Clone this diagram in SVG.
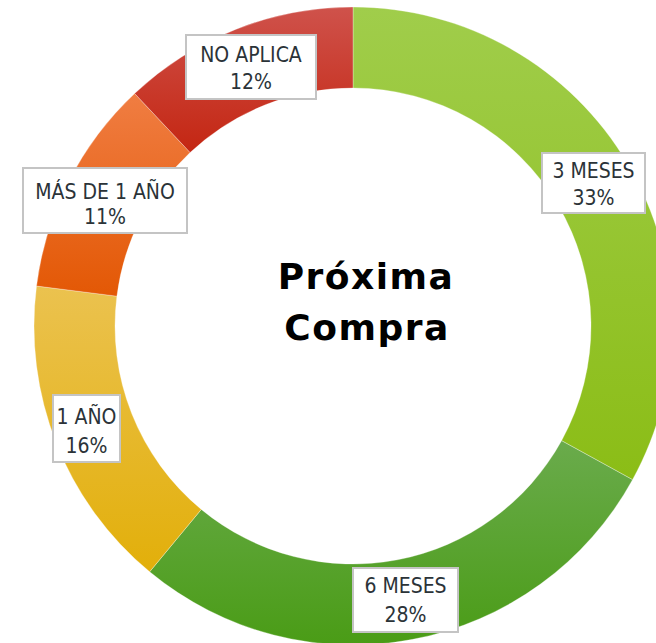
<svg xmlns="http://www.w3.org/2000/svg" width="656" height="643" viewBox="0 0 656 643">
<defs>
<linearGradient id="g1" x1="0" y1="0" x2="0" y2="1"><stop offset="0" stop-color="#a0cd4b"/><stop offset="1" stop-color="#8bbd16"/></linearGradient>
<linearGradient id="g2" x1="0" y1="0" x2="0" y2="1"><stop offset="0" stop-color="#6aab4c"/><stop offset="1" stop-color="#4a9c16"/></linearGradient>
<linearGradient id="g3" x1="0" y1="0" x2="0" y2="1"><stop offset="0" stop-color="#ebc24f"/><stop offset="1" stop-color="#e2af0a"/></linearGradient>
<linearGradient id="g4" x1="0" y1="0" x2="0" y2="1"><stop offset="0" stop-color="#f07d42"/><stop offset="1" stop-color="#e35805"/></linearGradient>
<linearGradient id="g5" x1="0" y1="0" x2="0" y2="1"><stop offset="0" stop-color="#cf524b"/><stop offset="1" stop-color="#c42612"/></linearGradient>
<style>
.seg{stroke:#ffffff;stroke-width:0.6;stroke-opacity:0.5}
.box{fill:#ffffff;stroke:#c4c4c4;stroke-width:2}
.lbl{font-family:"DejaVu Sans Condensed","DejaVu Sans",sans-serif;font-stretch:condensed;font-size:21px;fill:#2b3338;text-anchor:middle}
.title{font-family:"DejaVu Sans",sans-serif;font-size:36px;font-weight:bold;fill:#000;text-anchor:middle;letter-spacing:1.5px}
</style>
</defs>
<rect width="656" height="643" fill="#ffffff"/>
<g id="ring">
<g id="seg-3meses"><path class="seg" fill="url(#g1)" d="M353,7 A319,319 0 0 1 632.54,479.68 L561.56,440.66 A238,238 0 0 0 353,88 Z"/></g>
<g id="seg-6meses"><path class="seg" fill="url(#g2)" d="M632.54,479.68 A319,319 0 0 1 149.66,571.79 L201.29,509.38 A238,238 0 0 0 561.56,440.66 Z"/></g>
<g id="seg-1ano"><path class="seg" fill="url(#g3)" d="M149.66,571.79 A319,319 0 0 1 36.52,286.02 L116.88,296.17 A238,238 0 0 0 201.29,509.38 Z"/></g>
<g id="seg-mas1ano"><path class="seg" fill="url(#g4)" d="M36.52,286.02 A319,319 0 0 1 134.63,93.46 L190.08,152.51 A238,238 0 0 0 116.88,296.17 Z"/></g>
<g id="seg-noaplica"><path class="seg" fill="url(#g5)" d="M134.63,93.46 A319,319 0 0 1 353,7 L353,88 A238,238 0 0 0 190.08,152.51 Z"/></g>
</g>
<g id="center-title">
<text class="title" x="366" y="289">Próxima</text>
<text class="title" x="367" y="340">Compra</text>
</g>
<g id="label-noaplica">
<rect class="box" x="186" y="35" width="130" height="64"/>
<text class="lbl" x="251" y="62">NO APLICA</text>
<text class="lbl" x="251" y="89">12%</text>
</g>
<g id="label-mas1ano">
<rect class="box" x="23" y="168" width="164" height="65"/>
<text class="lbl" x="105" y="199">MÁS DE 1 AÑO</text>
<text class="lbl" x="105" y="224">11%</text>
</g>
<g id="label-3meses">
<rect class="box" x="542" y="153" width="103" height="60"/>
<text class="lbl" x="593.5" y="178">3 MESES</text>
<text class="lbl" x="593.5" y="205">33%</text>
</g>
<g id="label-1ano">
<rect class="box" x="53" y="395" width="67" height="67"/>
<text class="lbl" x="86.5" y="424">1 AÑO</text>
<text class="lbl" x="86.5" y="453">16%</text>
</g>
<g id="label-6meses">
<rect class="box" x="353" y="568" width="105" height="64"/>
<text class="lbl" x="405.5" y="593">6 MESES</text>
<text class="lbl" x="405.5" y="622">28%</text>
</g>
<g id="connectors"></g>
</svg>
